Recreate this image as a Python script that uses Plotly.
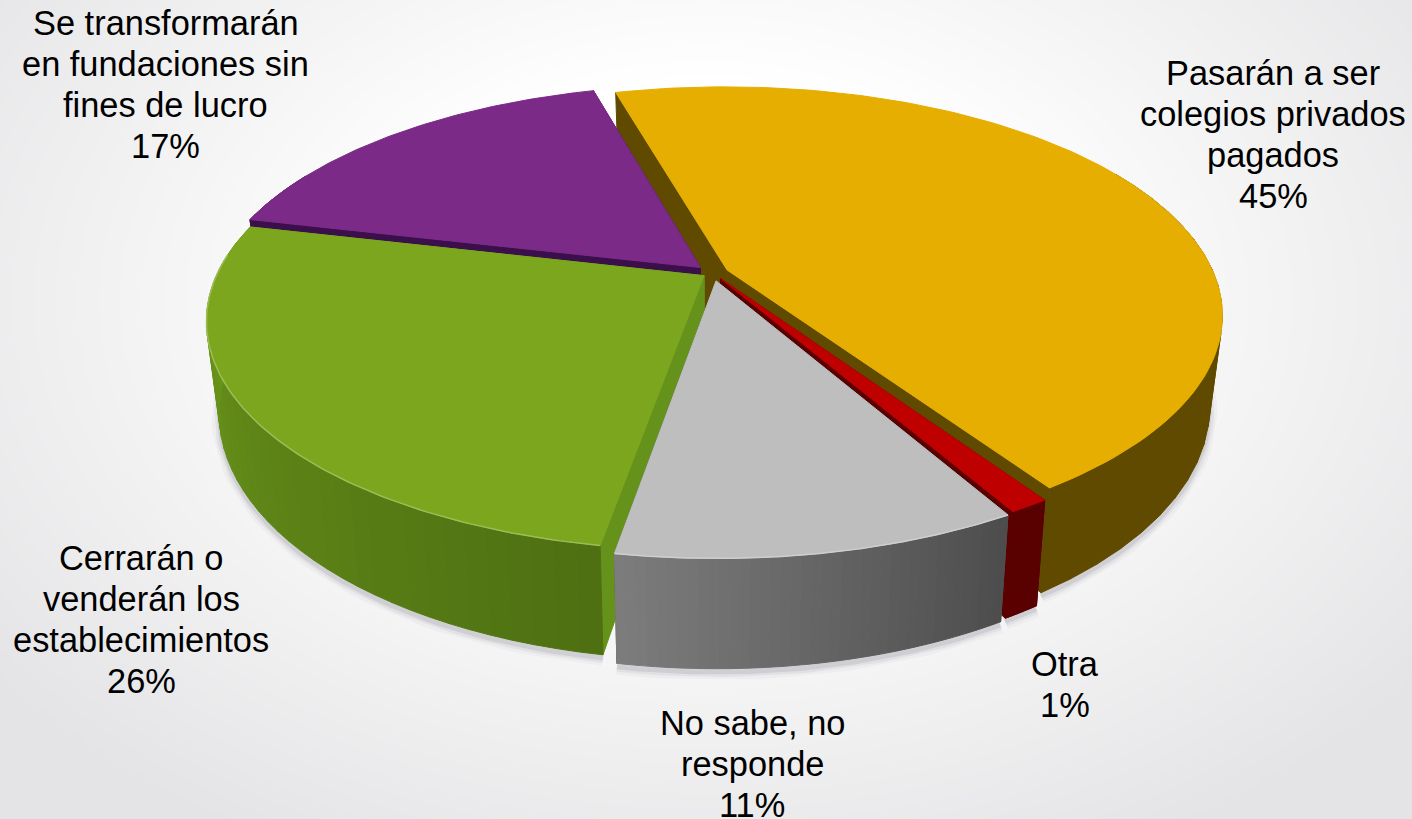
import numpy as np
import plotly.graph_objects as go

categories = ["Pasarán a ser<br>colegios privados<br>pagados", "Otra", "No sabe, no<br>responde",
              "Cerrarán o<br>venderán los<br>establecimientos", "Se transformarán<br>en fundaciones sin<br>fines de lucro"]
percent_labels = ["45%", "1%", "11%", "26%", "17%"]
values = [45.0, 1.1, 10.9, 26.0, 17.0]
top_colors = ["#E5AE00", "#BE0000", "#BEBEBE", "#7CA61E", "#7B2A87"]
wall_colors = ["#5F4A00", "#5A0000", "#555555", "#65921A", "#3B0F4B"]
rim_left = ["#5F4A00", "#5A0000", "#7C7C7C", "#6F9C1C", "#3B0F4B"]
rim_right = ["#5F4A00", "#5A0000", "#4D4D4D", "#4E7012", "#3B0F4B"]
explode = [0.032, 0.030, 0.036, 0.022, 0.036]
label_x = [1273, 1065, 752, 141, 165.5]
label_y = [134.5, 684.5, 764, 619.5, 84.5]

W, H = 1412, 819
X0, Y0, A, B, K, D, SHR = 713, 273, 486.5, 220, 0.195, 88, 0.025
START = -15.5
PITCH = 40.7


def proj(u, v, z=0.0):
    w = 1 + K * v
    s = 1 - SHR * z
    return X0 + A * u / w * s, Y0 - B * v / w + D * z / w


def poly(fig, pts, fill, line=None, lw=1):
    xs = [p[0] for p in pts] + [pts[0][0]]
    ys = [p[1] for p in pts] + [pts[0][1]]
    fig.add_trace(go.Scatter(x=xs, y=ys, mode="lines", fill="toself", fillcolor=fill,
                             line=dict(color=line or fill, width=lw), hoverinfo="skip", showlegend=False))


def mix(c1, c2, t):
    a = [int(c1[i:i + 2], 16) for i in (1, 3, 5)]
    b = [int(c2[i:i + 2], 16) for i in (1, 3, 5)]
    return "#%02X%02X%02X" % tuple(int(round(a[i] + (b[i] - a[i]) * t)) for i in range(3))


total = sum(values)
geo = []
cur = START
for val, e in zip(values, explode):
    a0, a1 = cur, cur + val / total * 360
    cur = a1
    m = np.radians((a0 + a1) / 2)
    geo.append((np.radians(a0), np.radians(a1), e * np.sin(m), e * np.cos(m)))

fig = go.Figure()

# background
gx = np.linspace(0, W, 71)
gy = np.linspace(0, H, 41)
xx, yy = np.meshgrid(gx, gy)
r = np.sqrt(((xx - 706) / 900) ** 2 + ((yy - 300) / 620) ** 2)
fig.add_trace(go.Heatmap(x=gx, y=gy, z=np.clip(r, 0.35, 1.0), zmin=0.35, zmax=1.0, zsmooth="best",
                         colorscale=[[0, "#FFFFFF"], [1, "#E4E4E6"]], showscale=False, hoverinfo="skip"))

# soft shadow under the pie
for width, alpha in [(16, 0.04), (10, 0.07), (5, 0.12)]:
    sx, sy = [], []
    for (a0, a1, ou, ov) in geo:
        t = np.linspace(a0, a1, 60)
        keep = np.cos(t) < 0.35
        t = t[keep]
        if len(t) == 0:
            continue
        p = [proj(np.sin(a) + ou, np.cos(a) + ov, 1.03) for a in t]
        sx += [q[0] for q in p] + [None]
        sy += [q[1] for q in p] + [None]
    fig.add_trace(go.Scatter(x=sx, y=sy, mode="lines", line=dict(color=f"rgba(70,70,90,{alpha})", width=width),
                             hoverinfo="skip", showlegend=False))

order = [0, 4, 3, 1, 2]
for i in order:
    a0, a1, ou, ov = geo[i]
    ap = (ou, ov)
    pt = lambda a, z: proj(np.sin(a) + ou, np.cos(a) + ov, z)
    # radial walls
    poly(fig, [pt(a0, 0), proj(*ap, 0), proj(*ap, 1), pt(a0, 1)], wall_colors[i])
    poly(fig, [pt(a1, 0), proj(*ap, 0), proj(*ap, 1), pt(a1, 1)], wall_colors[i])
    # outer wall, in narrow shaded strips
    n = 40
    edges = np.linspace(a0, a1, n + 1)
    for j in range(n):
        b0, b1 = edges[j], edges[j + 1]
        if np.cos((b0 + b1) / 2) > 0.45:
            continue
        col = mix(rim_right[i], rim_left[i], j / (n - 1))
        poly(fig, [pt(b0, 0), pt(b1, 0), pt(b1, 1), pt(b0, 1)], col)
    # top face
    t = np.linspace(a0, a1, 120)
    top = [proj(*ap, 0)] + [pt(a, 0) for a in t]
    poly(fig, top, top_colors[i])
    # thin bright rim
    if i in (2, 3):
        tt = t[np.cos(t) < 0.1]
        p = [pt(a, 0) for a in tt]
        fig.add_trace(go.Scatter(x=[q[0] for q in p], y=[q[1] for q in p], mode="lines",
                                 line=dict(color=mix(top_colors[i], "#FFFFFF", 0.25), width=1.5),
                                 hoverinfo="skip", showlegend=False))

for i, cat in enumerate(categories):
    lines = cat.split("<br>") + [percent_labels[i]]
    for j, line in enumerate(lines):
        fig.add_annotation(x=label_x[i], y=label_y[i] + (j - (len(lines) - 1) / 2) * PITCH, text=line,
                           showarrow=False, xanchor="center", yanchor="middle", align="center",
                           font=dict(family="Liberation Sans", size=34.4, color="#000000"))

fig.update_layout(width=W, height=H, margin=dict(l=0, r=0, t=0, b=0), paper_bgcolor="#FFFFFF",
                  plot_bgcolor="#FFFFFF", showlegend=False,
                  xaxis=dict(range=[0, W], visible=False, fixedrange=True),
                  yaxis=dict(range=[H, 0], visible=False, fixedrange=True))
fig.write_html("out.html", config={"displayModeBar": False},
               post_script="document.body.style.margin='0';document.documentElement.style.overflow='hidden';")
